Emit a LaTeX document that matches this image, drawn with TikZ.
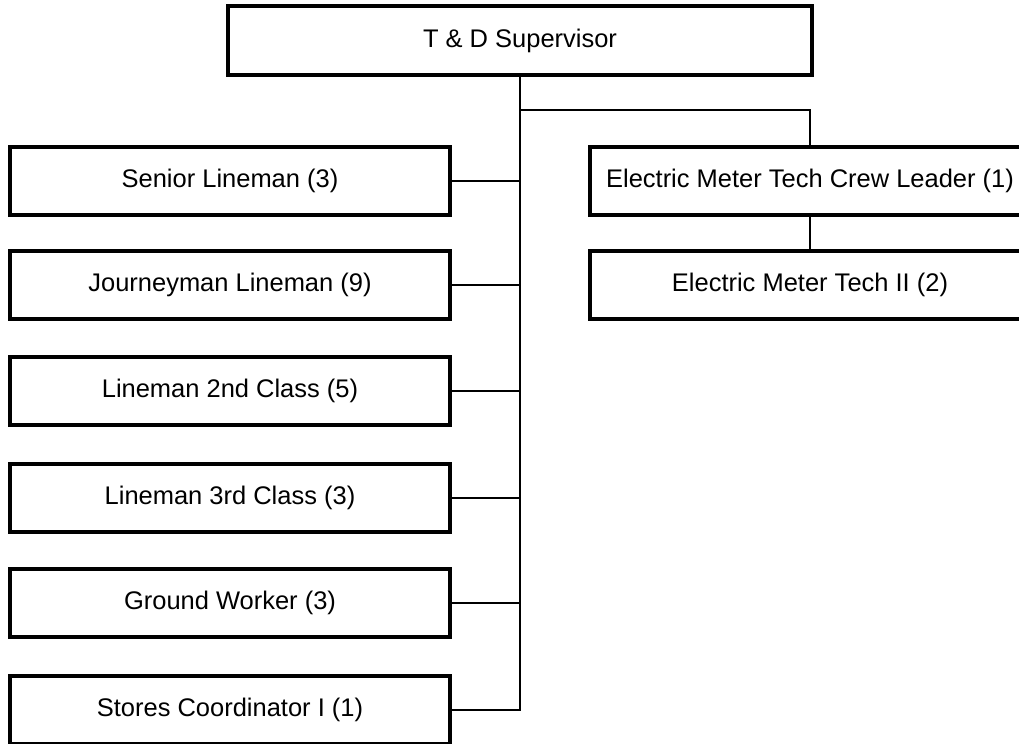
\documentclass[tikz,border=0pt]{standalone}
\usepackage{fontspec}
\setmainfont{Liberation Sans}
\usetikzlibrary{positioning}
\tikzset{
  posbox/.style={draw, line width=2.2pt, minimum width=8.8cm, minimum height=1.36cm,
    inner sep=0pt, font=\fontsize{14.5}{17}\selectfont},
  link/.style={line width=1.4pt}
}

\begin{document}
\begin{tikzpicture}[x=0.02cm, y=-0.02cm]
    \useasboundingbox (0,0) rectangle (1019,744);
    % Supervisor on top
    \node[posbox, minimum width=11.68cm, minimum height=1.38cm] (sup) at (520,40.5) {T \& D Supervisor};
    % Line crew stacked down the left side
    \foreach \n/\y/\txt in {1/181/Senior Lineman (3), 2/285/Journeyman Lineman (9),
        3/391/Lineman 2nd Class (5), 4/498/Lineman 3rd Class (3),
        5/603/Ground Worker (3), 6/710/Stores Coordinator I (1)} {
      \node[posbox] (l\n) at (230,\y) {\txt};
    }
    % Meter techs on the right
    \node[posbox] (r1) at (810,181) {Electric Meter Tech Crew Leader (1)};
    \node[posbox] (r2) at (810,285) {Electric Meter Tech II (2)};
    % Trunk and branches
    \coordinate (split) at (sup.south |- 0,110);
    \draw[link] (sup.south) -- (sup.south |- l6.east) -- (l6.east);
    \foreach \n in {1,...,5} {
      \draw[link] (l\n.east) -- (l\n.east -| sup.south);
    }
    \draw[link] (split) -| (r1.north);
    \draw[link] (r1) -- (r2);
\end{tikzpicture}
\end{document}
